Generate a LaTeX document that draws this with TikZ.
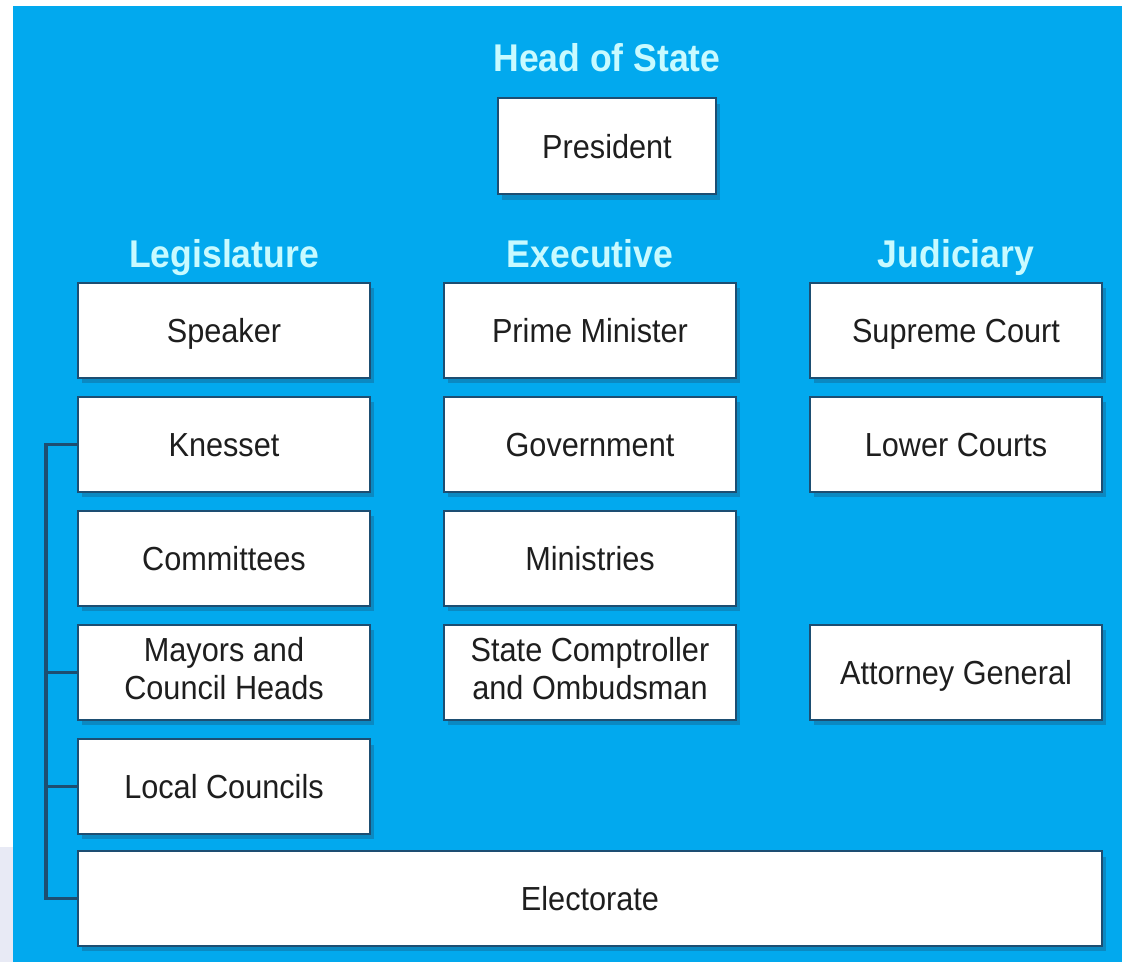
\documentclass[tikz,border=0pt]{standalone}
\usepackage{fontspec}
\setmainfont{Liberation Sans}
\newfontfamily\boxfont{Liberation Sans}[FakeStretch=0.92]
\usetikzlibrary{shadows}

\definecolor{bgblue}{HTML}{02A9EE}
\definecolor{headcyan}{HTML}{C8FAFF}
\definecolor{boxline}{HTML}{1D4E72}
\definecolor{boxtext}{HTML}{1E1E1E}
\definecolor{margin}{HTML}{E8EAF5}

% strut that centres the cap height in a box
\newcommand\boxstrut{\rule[-6pt]{0pt}{30pt}}

\begin{document}
\begin{tikzpicture}[
  x=0.75pt, y=-0.75pt,
  every node/.style = {inner sep=0pt},
  head/.style       = {anchor=base, text=headcyan,
                        font=\boxfont\bfseries\fontsize{29}{32}\selectfont},
  box/.style        = {draw=boxline, line width=1.5pt, fill=white,
                        align=center, minimum width=219pt,
                        minimum height=71pt, text=boxtext,
                        font=\boxfont\fontsize{25}{28}\selectfont,
                        execute at begin node=\boxstrut,
                        execute at end node=\boxstrut,
                        drop shadow={shadow xshift=3pt, shadow yshift=-4pt,
                                     fill=boxline, opacity=0.35}},
  link/.style       = {draw=boxline, line width=2.8pt},
]

% ── BACKGROUND ────────────────────────────────────────────────────────────────
\useasboundingbox (0,0) rectangle (1122,962);
\fill[margin] (0,847) rectangle (13,962);
\fill[bgblue] (13,6) rectangle (1122,962);

% ── HEAD OF STATE ─────────────────────────────────────────────────────────────
\node[head] (hsTitle) at (607, 72) {Head of State};
\node[box, minimum width=164pt, minimum height=72pt] (president) at (607, 146.5)
  {President};

% ── COLUMN TITLES ─────────────────────────────────────────────────────────────
\node[head] (legTitle) at (224, 268) {Legislature};
\node[head] (exeTitle) at (590, 268) {Executive};
\node[head] (judTitle) at (956, 268) {Judiciary};

% ── LEGISLATURE ───────────────────────────────────────────────────────────────
\node[box] (speaker)    at (224, 330.5) {Speaker};
\node[box] (knesset)    at (224, 444.5) {Knesset};
\node[box] (committees) at (224, 558.5) {Committees};
\node[box] (mayors)     at (224, 672.5) {Mayors and\\Council Heads};
\node[box] (locals)     at (224, 786.5) {Local Councils};

% ── EXECUTIVE ─────────────────────────────────────────────────────────────────
\node[box] (primeMin)   at (590, 330.5) {Prime Minister};
\node[box] (govt)       at (590, 444.5) {Government};
\node[box] (ministries) at (590, 558.5) {Ministries};
\node[box] (comptrol)   at (590, 672.5) {State Comptroller\\and Ombudsman};

% ── JUDICIARY ─────────────────────────────────────────────────────────────────
\node[box] (supreme)    at (956, 330.5) {Supreme Court};
\node[box] (lower)      at (956, 444.5) {Lower Courts};
\node[box] (attorney)   at (956, 672.5) {Attorney General};

% ── ELECTORATE ────────────────────────────────────────────────────────────────
\node[box, minimum width=768pt] (electorate) at (590, 898.5) {Electorate};

% ── ELECTION BRACKET ──────────────────────────────────────────────────────────
\coordinate (bus) at (46, 444.5);
\draw[link] (knesset.west) -- (knesset.west -| bus)
  -- (electorate.west -| bus) -- (electorate.west);
\draw[link] (mayors.west) -- (mayors.west -| bus);
\draw[link] (locals.west) -- (locals.west -| bus);

\end{tikzpicture}
\end{document}
